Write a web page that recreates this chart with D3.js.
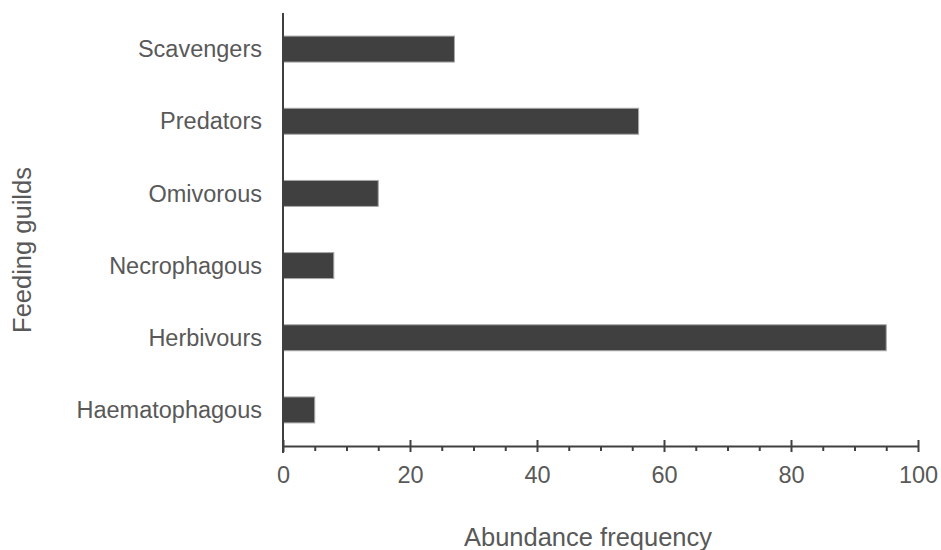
<!DOCTYPE html>
<html>
<head>
<meta charset="utf-8">
<script src="https://cdn.jsdelivr.net/npm/d3@7"></script>
<style>
  html, body { margin: 0; padding: 0; background: #fff; }
  svg { display: block; font-family: "Liberation Sans", Arial, sans-serif; }
</style>
</head>
<body>
<svg id="chart" width="941" height="550"></svg>
<script>
// Feeding guilds, listed top to bottom
const guilds = ["Scavengers", "Predators", "Omivorous", "Necrophagous", "Herbivours", "Haematophagous"];
// Abundance frequency for each guild
const abundance = [27, 56, 15, 8, 95, 5];
// Labelled ticks on the frequency axis
const majorTicks = [0, 20, 40, 60, 80, 100];
const minorTicks = [5, 10, 15, 25, 30, 35, 45, 50, 55, 65, 70, 75, 85, 90, 95];

const svg = d3.select("#chart");
const plot = { left: 283, right: 918, top: 13, bottom: 446 };
const ink = "#404040", textColor = "#595959";

const x = d3.scaleLinear().domain([0, 100]).range([plot.left, plot.right]);
const y = d3.scaleBand().domain(guilds).range([plot.top, plot.bottom])
  .paddingInner(0.64).paddingOuter(0.32);

// bars
svg.append("g").selectAll("rect")
  .data(guilds.map((g, i) => ({ g, v: abundance[i] })))
  .join("rect")
  .attr("x", x(0))
  .attr("y", d => y(d.g))
  .attr("width", d => x(d.v) - x(0))
  .attr("height", y.bandwidth())
  .attr("fill", ink)
  .attr("stroke", "#a8a8a8")
  .attr("stroke-width", 1);

// minor ticks
const minorAxis = svg.append("g")
  .attr("transform", `translate(0,${plot.bottom})`)
  .call(d3.axisBottom(x).tickValues(minorTicks).tickSize(5).tickFormat(""));
minorAxis.select(".domain").remove();
minorAxis.selectAll("line").attr("stroke", ink).attr("stroke-width", 2);

// major ticks and labels
const xAxis = svg.append("g")
  .attr("transform", `translate(0,${plot.bottom})`)
  .call(d3.axisBottom(x).tickValues(majorTicks).tickSize(6).tickPadding(14).tickSizeOuter(0));
xAxis.select(".domain").attr("stroke", ink).attr("stroke-width", 2);
xAxis.selectAll(".tick line").attr("y1", -6).attr("y2", 6)
  .attr("stroke", ink).attr("stroke-width", 2);
xAxis.selectAll(".tick text")
  .attr("y", 37).attr("dy", null)
  .attr("fill", textColor)
  .style("font-size", "23.5px");

// category axis
const yAxis = svg.append("g")
  .attr("transform", `translate(${plot.left},0)`)
  .call(d3.axisLeft(y).tickSize(0).tickPadding(21));
yAxis.select(".domain")
  .attr("d", `M0,${plot.top}V${plot.bottom + 7}`)
  .attr("stroke", ink).attr("stroke-width", 2);
yAxis.selectAll(".tick text")
  .attr("dy", "0.35em")
  .attr("fill", textColor)
  .style("font-size", "23.5px");

// axis titles
svg.append("text")
  .attr("x", 588).attr("y", 546)
  .attr("text-anchor", "middle")
  .attr("fill", textColor)
  .style("font-size", "25.5px")
  .text("Abundance frequency");

svg.append("text")
  .attr("transform", "translate(31,250) rotate(-90)")
  .attr("text-anchor", "middle")
  .attr("fill", textColor)
  .style("font-size", "25.5px")
  .text("Feeding guilds");
</script>
</body>
</html>
